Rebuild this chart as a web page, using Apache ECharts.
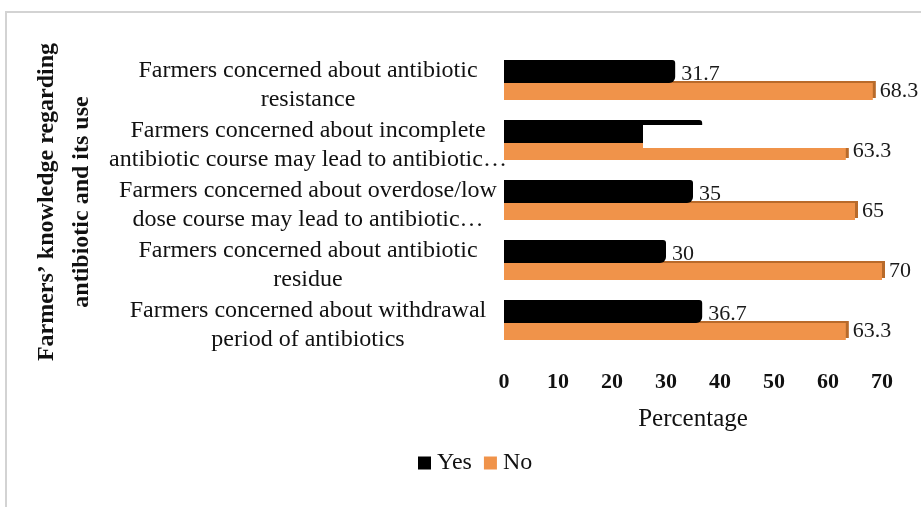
<!DOCTYPE html>
<html>
<head>
<meta charset="utf-8">
<script src="https://cdn.jsdelivr.net/npm/echarts@6/dist/echarts.min.js"></script>
<style>
  html, body { margin: 0; padding: 0; background: #ffffff; }
  #chart { width: 921px; height: 507px; }
</style>
</head>
<body>
<div id="chart"></div>
<script>
// Survey categories, listed top to bottom
const categories = [
  'Farmers concerned about antibiotic\nresistance',
  'Farmers concerned about incomplete\nantibiotic course may lead to antibiotic…',
  'Farmers concerned about overdose/low\ndose course may lead to antibiotic…',
  'Farmers concerned about antibiotic\nresidue',
  'Farmers concerned about withdrawal\nperiod of antibiotics'
];
const yesValues = [31.7, 36.7, 35, 30, 36.7];
const noValues = [68.3, 63.3, 65, 70, 63.3];
const tickValues = [0, 10, 20, 30, 40, 50, 60, 70];

const serif = '"Liberation Serif", "DejaVu Serif", serif';

const chart = echarts.init(document.getElementById('chart'), null, { renderer: 'canvas' });

chart.setOption({
  animation: false,
  backgroundColor: '#ffffff',
  grid: { left: 504, right: 39, top: 50, bottom: 157, containLabel: false },
  legend: {
    data: ['Yes', 'No'],
    left: 413,
    top: 446,
    itemWidth: 13,
    itemHeight: 13,
    itemGap: 12,
    icon: 'rect',
    textStyle: { fontFamily: serif, fontSize: 24, color: '#111111', padding: [0, 0, 0, 1] }
  },
  xAxis: {
    type: 'value',
    min: tickValues[0],
    max: tickValues[tickValues.length - 1],
    interval: 10,
    name: 'Percentage',
    nameLocation: 'middle',
    nameGap: 57,
    nameTextStyle: { fontFamily: serif, fontSize: 25, color: '#111111' },
    axisLine: { show: false },
    axisTick: { show: false },
    splitLine: { show: false },
    axisLabel: { fontFamily: serif, fontSize: 22, fontWeight: 'bold', color: '#111111', margin: 21 }
  },
  yAxis: {
    type: 'category',
    inverse: true,
    data: categories,
    axisLine: { show: false },
    axisTick: { show: false },
    axisLabel: {
      margin: 0,
      padding: [10, 0, 0, 0],
      formatter: function (v) {
        return v.split('\n').map(function (s) { return '{c|' + s + '}'; }).join('\n');
      },
      rich: {
        c: { fontFamily: serif, fontSize: 24, color: '#111111', width: 392, align: 'center', lineHeight: 29 }
      }
    }
  },
  series: [
    {
      name: 'Yes',
      type: 'bar',
      data: yesValues,
      barWidth: 23,
      barGap: '0%',
      z: 3,
      itemStyle: { color: '#000000', borderRadius: [0, 3, 6, 0] },
      label: {
        show: true,
        position: 'right',
        distance: 6,
        offset: [0, 3],
        fontFamily: serif,
        fontSize: 22,
        color: '#1a1a1a'
      }
    },
    {
      name: 'No',
      type: 'bar',
      data: noValues,
      barWidth: 17,
      z: 2,
      itemStyle: {
        color: '#f0934a',
        shadowColor: '#b86a2a',
        shadowBlur: 0,
        shadowOffsetX: 3,
        shadowOffsetY: -2
      },
      label: {
        show: true,
        position: 'right',
        distance: 7,
        fontFamily: serif,
        fontSize: 22,
        color: '#1a1a1a'
      }
    }
  ],
  graphic: [
    // outer frame
    {
      type: 'rect',
      shape: { x: 6, y: 12, width: 930, height: 520 },
      style: { fill: 'none', stroke: '#d3d3d3', lineWidth: 2 },
      z: 0
    },
    // rotated axis title
    {
      type: 'text',
      x: 64,
      y: 202,
      rotation: Math.PI / 2,
      style: {
        text: 'Farmers’ knowledge regarding\nantibiotic and its use',
        fontFamily: serif,
        fontSize: 24,
        fontWeight: 'bold',
        fill: '#111111',
        align: 'center',
        verticalAlign: 'middle',
        lineHeight: 35
      }
    },
    // blank patch over the second group
    {
      type: 'rect',
      shape: { x: 643, y: 125, width: 207, height: 23 },
      style: { fill: '#ffffff' },
      z: 100
    }
  ]
});
</script>
</body>
</html>
